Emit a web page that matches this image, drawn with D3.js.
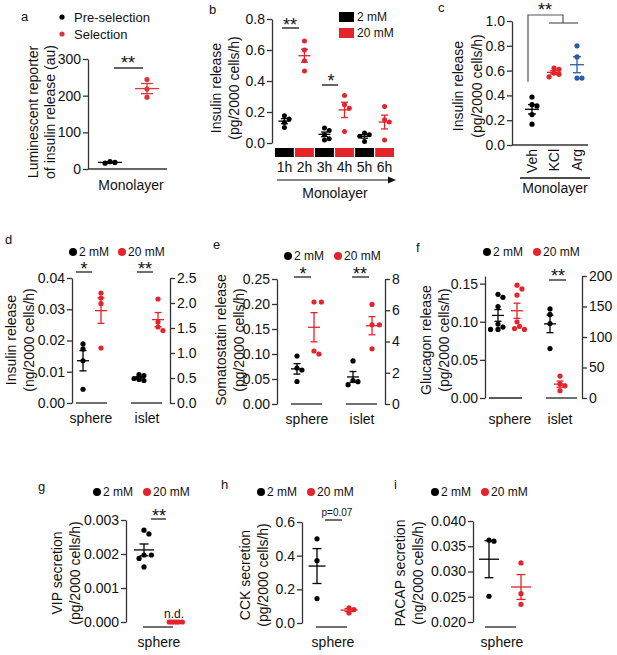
<!DOCTYPE html>
<html><head><meta charset="utf-8">
<script src="https://cdn.jsdelivr.net/npm/d3@7"></script>
<style>
body{margin:0;background:#fff}
text{font-family:"Liberation Sans",Arial,Helvetica,sans-serif;fill:#111}
</style>
</head><body>
<svg id="fig" width="617" height="655"></svg>
<script>
// ---------------- DATA ----------------
const legendA = ["Pre-selection", "Selection"];
const aPre = [20, 16, 18];
const aSel = [244, 218, 196];
const aTicks = [0, 100, 200, 300];

const bHours = ["1h", "2h", "3h", "4h", "5h", "6h"];
const bLegend = ["2 mM", "20 mM"];
const bValues = [
  [0.176, 0.155, 0.133, 0.10],
  [0.658, 0.60, 0.53, 0.465],
  [0.097, 0.08, 0.054, 0.028, 0.02],
  [0.307, 0.247, 0.225, 0.075],
  [0.064, 0.054, 0.043, 0.01],
  [0.236, 0.15, 0.135, 0.02]
];
const bTicks = [0, 0.2, 0.4, 0.6, 0.8];

const cCats = ["Veh", "KCl", "Arg"];
const cValues = [
  [0.387, 0.325, 0.315, 0.245, 0.168],
  [0.62, 0.61, 0.58, 0.57, 0.55],
  [0.80, 0.71, 0.54, 0.54]
];
const cTicks = [0, 0.2, 0.4, 0.6, 0.8, 1.0];

const glucoseLegend = ["2 mM", "20 mM"];
const tissues = ["sphere", "islet"];

const dSphere2 = [0.0173, 0.0189, 0.0135, 0.0044];
const dSphere20 = [0.0352, 0.0336, 0.0318, 0.0176];
const dIslet2 = [0.55, 0.57, 0.45, 0.47, 0.49];
const dIslet20 = [2.08, 1.62, 1.45, 1.52];
const dTicksL = [0, 0.01, 0.02, 0.03, 0.04];
const dTicksR = [0, 0.5, 1.0, 1.5, 2.0, 2.5];

const eSphere2 = [0.096, 0.072, 0.068, 0.045];
const eSphere20 = [0.204, 0.204, 0.10, 0.106];
const eIslet2 = [2.76, 1.43, 1.5, 1.24];
const eIslet20 = [6.37, 5.07, 5.07, 3.53];
const eTicksL = [0, 0.05, 0.10, 0.15, 0.20, 0.25];
const eTicksR = [0, 2, 4, 6, 8];

const fSphere2 = [0.136, 0.132, 0.120, 0.097, 0.093, 0.090, 0.090];
const fSphere20 = [0.148, 0.143, 0.135, 0.100, 0.094, 0.091, 0.090];
const fIslet2 = [146, 137, 122, 81];
const fIslet20 = [36, 20, 23, 12];
const fTicksL = [0, 0.05, 0.10, 0.15];
const fTicksR = [0, 50, 100, 150, 200];

const gLow = [0.00259, 0.0027, 0.00197, 0.00187, 0.00197, 0.00162];
const gHigh = [0, 0, 0, 0, 0, 0];
const gTicks = [0, 0.001, 0.002, 0.003];

const hLow = [0.50, 0.37, 0.145];
const hHigh = [0.09, 0.06, 0.08];
const hTicks = [0, 0.2, 0.4, 0.6];

const iLow = [0.0362, 0.0360, 0.0251];
const iHigh = [0.0317, 0.0256, 0.0235];
const iTicks = [0.020, 0.025, 0.030, 0.035, 0.040];

// ---------------- STYLE ----------------
const RED = "#e5232b", RED_A = "#d8383d", BLACK = "#000", BLUE = "#2b5ba8";
const AXIS = "#333";
const svg = d3.select("#fig");

function yAxis(x, scale, ticks, fmt, right) {
  const ax = (right ? d3.axisRight(scale) : d3.axisLeft(scale))
    .tickValues(ticks).tickFormat(d3.format(fmt)).tickSize(5).tickPadding(2).tickSizeOuter(0);
  const g = svg.append("g").attr("transform", `translate(${x},0)`).call(ax);
  g.select(".domain").attr("stroke", AXIS).attr("stroke-width", 1.3);
  g.selectAll(".tick line").attr("stroke", AXIS).attr("stroke-width", 1.3);
  g.selectAll(".tick text").attr("font-size", 14).attr("fill", "#111")
    .attr("font-family", "Liberation Sans, Arial, sans-serif");
  return g;
}
function yLabel(lines, xs, cy) {
  lines.forEach((t, i) => {
    svg.append("text").attr("transform", `translate(${xs[i]},${cy}) rotate(-90)`)
      .attr("text-anchor", "middle").attr("dominant-baseline", "central")
      .attr("font-size", 14).text(t);
  });
}
function letter(t, x, y) {
  svg.append("text").attr("x", x).attr("y", y).attr("font-size", 13).text(t);
}
function hline(x1, x2, y, color, w) {
  svg.append("line").attr("x1", x1).attr("x2", x2).attr("y1", y).attr("y2", y)
    .attr("stroke", color || AXIS).attr("stroke-width", w || 1.3);
}
function text(t, x, y, size, anchor) {
  return svg.append("text").attr("x", x).attr("y", y).attr("font-size", size)
    .attr("text-anchor", anchor || "middle").text(t);
}
function stars(t, x, cy) { text(t, x, cy + 10, 18); }
function swarm(ys, cx, minDist) {
  const idx = ys.map((d, i) => i).sort((a, b) => ys[a] - ys[b]);
  const placed = [], xs = new Array(ys.length);
  const cands = [0];
  for (let j = 1; j < 30; j++) cands.push(j * minDist / 2, -j * minDist / 2);
  for (const i of idx) {
    let x = cx;
    for (const off of cands) {
      x = cx + off;
      if (placed.every(p => Math.hypot(p.x - x, p.y - ys[i]) >= minDist)) break;
    }
    placed.push({ x, y: ys[i] }); xs[i] = x;
  }
  return xs;
}
function group(cx, y, vals, color, opt) {
  const r = opt.r || 2.6, mw = opt.mw, cw = opt.cw, md = opt.md || 2 * r * 0.95;
  const ys = vals.map(v => y(v));
  const xs = swarm(ys, cx, md);
  const g = svg.append("g");
  g.selectAll("circle").data(vals).join("circle")
    .attr("cx", (d, i) => xs[i]).attr("cy", (d, i) => ys[i]).attr("r", r).attr("fill", color);
  if (opt.noErr) return;
  const m = d3.mean(vals), sem = d3.deviation(vals) / Math.sqrt(vals.length);
  const s = { stroke: color, "stroke-width": 1.3 };
  const L = (x1, y1, x2, y2) => { const l = g.append("line").attr("x1", x1).attr("y1", y1).attr("x2", x2).attr("y2", y2); for (const k in s) l.attr(k, s[k]); };
  L(cx - mw, y(m), cx + mw, y(m));
  L(cx, y(m - sem), cx, y(m + sem));
  L(cx - cw, y(m - sem), cx + cw, y(m - sem));
  L(cx - cw, y(m + sem), cx + cw, y(m + sem));
}
function dotLegend(y, xb, xr, labels, size, r, redColor) {
  svg.append("circle").attr("cx", xb).attr("cy", y).attr("r", r).attr("fill", BLACK);
  text(labels[0], xb + r + 2, y, size, "start").attr("dominant-baseline", "central");
  svg.append("circle").attr("cx", xr).attr("cy", y).attr("r", r).attr("fill", redColor || RED);
  text(labels[1], xr + r + 2, y, size, "start").attr("dominant-baseline", "central");
}

// ---------------- PANEL A ----------------
letter("a", 21, 21);
svg.append("circle").attr("cx", 62).attr("cy", 17).attr("r", 2.6).attr("fill", BLACK);
text(legendA[0], 74, 17, 13, "start").attr("dominant-baseline", "central");
svg.append("circle").attr("cx", 62).attr("cy", 34).attr("r", 2.6).attr("fill", RED_A);
text(legendA[1], 74, 34, 13, "start").attr("dominant-baseline", "central");
const yA = d3.scaleLinear([0, 300], [169, 59]);
yAxis(88, yA, aTicks, "d");
hline(88, 167, 169);
yLabel(["Luminescent reporter", "of insulin release (au)"], [33, 50], 112);
group(110, yA, aPre, BLACK, { mw: 12, cw: 6 });
group(147, yA, aSel, RED_A, { mw: 12, cw: 6 });
hline(114, 143, 68, "#111");
stars("**", 128, 59);
text("Monolayer", 131, 190, 14);

// ---------------- PANEL B ----------------
letter("b", 209, 14);
const yB = d3.scaleLinear([0, 0.8], [143, 19]);
yAxis(272, yB, bTicks, ".1f");
yLabel(["Insulin release", "(pg/2000 cells/h)"], [216, 234], 88);
const xB = d3.scaleBand(bHours, [275, 394]).paddingInner(0.06);
bHours.forEach((h, i) => {
  const col = i % 2 === 0 ? BLACK : RED;
  svg.append("rect").attr("x", xB(h)).attr("y", 148).attr("width", xB.bandwidth()).attr("height", 9).attr("fill", col);
  text(h, xB(h) + xB.bandwidth() / 2, 172, 14);
  group(xB(h) + xB.bandwidth() / 2, yB, bValues[i], col, { mw: 6, cw: 3.5, r: 2.5 });
});
hline(277, 390, 180, "#111", 1.2);
svg.append("path").attr("d", "M396,180 L388,176.5 L388,183.5 Z").attr("fill", "#111");
text("Monolayer", 335, 198, 14);
svg.append("rect").attr("x", 339).attr("y", 12).attr("width", 15).attr("height", 10).attr("fill", BLACK);
svg.append("rect").attr("x", 339).attr("y", 28).attr("width", 15).attr("height", 10).attr("fill", RED);
text(bLegend[0], 357, 17, 12, "start").attr("dominant-baseline", "central");
text(bLegend[1], 357, 33, 12, "start").attr("dominant-baseline", "central");
hline(282, 299, 28, "#111");
stars("**", 290, 21);
hline(322, 338, 85, "#111");
stars("*", 331, 77);

// ---------------- PANEL C ----------------
letter("c", 438, 12);
const yC = d3.scaleLinear([0, 1], [145, 21]);
yAxis(512, yC, cTicks, ".1f");
hline(512, 588, 145);
yLabel(["Insulin release", "(pg/2000 cells/h)"], [458, 477], 86);
const xC = [532, 554, 577];
const cColors = [BLACK, RED, BLUE];
cCats.forEach((c, i) => {
  group(xC[i], yC, cValues[i], cColors[i], { mw: 7, cw: 4 });
  svg.append("text").attr("transform", `translate(${xC[i]},149) rotate(-90)`)
    .attr("text-anchor", "end").attr("dominant-baseline", "central").attr("font-size", 14).text(c);
});
hline(520, 590, 178, "#111");
text("Monolayer", 555, 193, 14);
svg.append("path").attr("d", `M528,${yC(0.51)} V15 H563 V23`).attr("fill", "none").attr("stroke", "#555").attr("stroke-width", 1.2);
hline(549, 578, 23, "#555", 1.2);
stars("**", 545, 6);

// ---------------- PANEL D ----------------
letter("d", 5, 244);
dotLegend(252, 73, 122, glucoseLegend, 12, 4);
const yDL = d3.scaleLinear([0, 0.04], [403, 278]);
const yDR = d3.scaleLinear([0, 2.5], [403, 278]);
yAxis(72, yDL, dTicksL, ".2f");
yAxis(170, yDR, dTicksR, ".1f", true);
yLabel(["Insulin release", "(ng/2000 cells/h)"], [11, 29], 340);
group(83, yDL, dSphere2, BLACK, { mw: 6, cw: 3.5 });
group(101, yDL, dSphere20, RED, { mw: 6, cw: 3.5 });
group(139, yDR, dIslet2, BLACK, { mw: 6, cw: 3.5 });
group(158, yDR, dIslet20, RED, { mw: 6, cw: 3.5 });
hline(76, 107, 403, "#222");
hline(131, 162, 403, "#222");
text(tissues[0], 91, 423, 14);
text(tissues[1], 147, 423, 14);
hline(76, 92, 272, "#222");
stars("*", 84, 265);
hline(137, 153, 272, "#222");
stars("**", 145, 265);

// ---------------- PANEL E ----------------
letter("e", 213, 249);
dotLegend(256, 288, 338, glucoseLegend, 12, 4);
const yEL = d3.scaleLinear([0, 0.25], [404, 279]);
const yER = d3.scaleLinear([0, 8], [404, 279]);
yAxis(277, yEL, eTicksL, ".2f");
yAxis(385, yER, eTicksR, "d", true);
yLabel(["Somatostatin release", "(pg/2000 cells/h)"], [221, 239], 340);
group(297, yEL, eSphere2, BLACK, { mw: 6, cw: 3.5 });
group(314, yEL, eSphere20, RED, { mw: 6, cw: 3.5 });
group(353, yER, eIslet2, BLACK, { mw: 6, cw: 3.5 });
group(372, yER, eIslet20, RED, { mw: 6, cw: 3.5 });
hline(291, 322, 404, "#222");
hline(346, 377, 404, "#222");
text(tissues[0], 307, 424, 14);
text(tissues[1], 362, 424, 14);
hline(294, 311, 277, "#222");
stars("*", 303, 270);
hline(352, 369, 277, "#222");
stars("**", 360, 270);

// ---------------- PANEL F ----------------
letter("f", 416, 252);
dotLegend(252, 487, 537, glucoseLegend, 12, 4);
const yFL = d3.scaleLinear([0, 0.16], [398, 276]);
const yFR = d3.scaleLinear([0, 200], [398, 276]);
yAxis(485, yFL, fTicksL, ".2f");
yAxis(582, yFR, fTicksR, "d", true);
yLabel(["Glucagon release", "(pg/2000 cells/h)"], [426, 444], 340);
group(498, yFL, fSphere2, BLACK, { mw: 6, cw: 3.5 });
group(517, yFL, fSphere20, RED, { mw: 6, cw: 3.5 });
group(550, yFR, fIslet2, BLACK, { mw: 6, cw: 3.5 });
group(560, yFR, fIslet20, RED, { mw: 6, cw: 3.5 });
hline(489, 522, 398, "#222");
hline(546, 577, 398, "#222");
text(tissues[0], 510, 424, 14);
text(tissues[1], 560, 424, 14);
hline(549, 566, 280, "#222");
stars("**", 558, 272);

// ---------------- PANEL G ----------------
letter("g", 38, 491);
dotLegend(492, 97, 147, glucoseLegend, 12, 4);
const yG = d3.scaleLinear([0, 0.003], [622, 520]);
yAxis(126, yG, gTicks, ".3f");
yLabel(["VIP secretion", "(pg/2000 cells/h)"], [57, 75], 573);
group(144, yG, gLow, BLACK, { mw: 10, cw: 4.5 });
group(174, yG, gHigh, RED, { mw: 10, cw: 4.5, md: 2.4, noErr: true });
text("n.d.", 174, 618, 12);
hline(143, 173, 627, "#222");
text(tissues[0], 159, 647, 14);
hline(151, 166, 519, "#222");
stars("**", 159, 512);

// ---------------- PANEL H ----------------
letter("h", 221, 489);
dotLegend(492, 261, 311, glucoseLegend, 12, 4);
const yH = d3.scaleLinear([0, 0.6], [623, 522]);
yAxis(302, yH, hTicks, ".1f");
yLabel(["CCK secretion", "(pg/2000 cells/h)"], [245, 263], 575);
group(317, yH, hLow, BLACK, { mw: 8.5, cw: 4.5 });
group(349, yH, hHigh, RED, { mw: 8.5, cw: 4.5 });
hline(316, 347, 627, "#222");
text(tissues[0], 333, 647, 14);
hline(325, 342, 520, "#222");
text("p=0.07", 337, 516, 10);

// ---------------- PANEL I ----------------
letter("i", 394, 489);
dotLegend(492, 435, 485, glucoseLegend, 12, 4);
const yI = d3.scaleLinear([0.020, 0.040], [622, 521]);
yAxis(473, yI, iTicks, ".3f");
yLabel(["PACAP secretion", "(ng/2000 cells/h)"], [400, 418], 573);
group(489, yI, iLow, BLACK, { mw: 10, cw: 4.5 });
group(521, yI, iHigh, RED, { mw: 10, cw: 4.5 });
hline(485, 516, 627, "#222");
text(tissues[0], 502, 647, 14);
</script>
</body></html>
